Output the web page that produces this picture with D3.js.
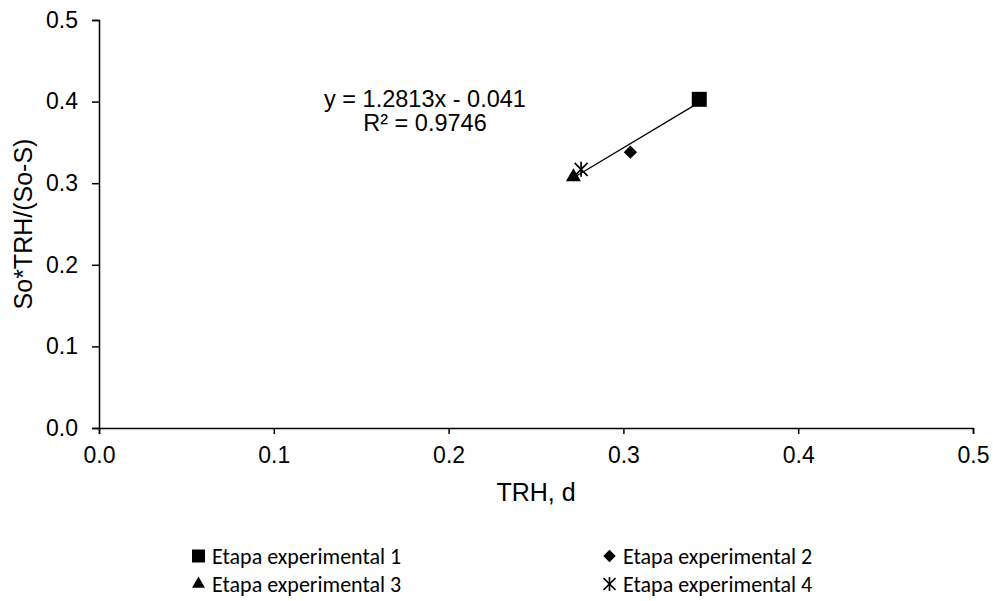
<!DOCTYPE html>
<html><head><meta charset="utf-8">
<script src="https://cdn.jsdelivr.net/npm/d3@7"></script>
<style>body{margin:0;background:#fff}svg{display:block}</style>
</head><body><svg id="c" width="993" height="601"></svg>
<script>
const seriesNames = ["Etapa experimental 1","Etapa experimental 2","Etapa experimental 3","Etapa experimental 4"];
const xValues = [0.3434, 0.304, 0.2714, 0.2758];
const yValues = [0.4028, 0.338, 0.3076, 0.317];
const symbols = ["square","diamond","triangle","asterisk"];
const xTicks = [0,0.1,0.2,0.3,0.4,0.5];
const yTicks = [0,0.1,0.2,0.3,0.4,0.5];
const slope = 1.2813, intercept = -0.041;
const eqLines = ["y = 1.2813x - 0.041","R² = 0.9746"];

const svg = d3.select("#c");
const x = d3.scaleLinear().domain([0,0.5]).range([99,973]);
const y = d3.scaleLinear().domain([0,0.5]).range([428,20]);
const font = "Liberation Sans, Arial, sans-serif";

const xa = svg.append("g").attr("transform","translate(0,428)")
  .call(d3.axisBottom(x).tickValues(xTicks).tickFormat(d3.format(".1f")).tickSizeOuter(0).tickSize(6).tickPadding(13));
const ya = svg.append("g").attr("transform","translate(99,0)")
  .call(d3.axisLeft(y).tickValues(yTicks).tickFormat(d3.format(".1f")).tickSizeOuter(0).tickSize(7).tickPadding(14));
[xa,ya].forEach(a=>{
  a.selectAll("path,line").attr("stroke","#000").attr("stroke-width",1.5);
  a.selectAll("text").attr("font-family",font).attr("font-size",23).attr("fill","#000");
});

svg.append("text").attr("x",536).attr("y",501).attr("text-anchor","middle")
  .attr("font-family",font).attr("font-size",25).text("TRH, d");
svg.append("text").attr("transform","translate(32,224) rotate(-90)").attr("text-anchor","middle")
  .attr("font-family",font).attr("font-size",25).text("So*TRH/(So-S)");

// trendline
const xmin = d3.min(xValues), xmax = d3.max(xValues);
svg.append("line").attr("x1",x(xmin)).attr("y1",y(slope*xmin+intercept))
  .attr("x2",x(xmax)).attr("y2",y(slope*xmax+intercept))
  .attr("stroke","#000").attr("stroke-width",1.3);

function drawSym(g, type, cx, cy, s){
  if(type==="asterisk"){
    const r=s/2;
    const p = g.append("g").attr("transform",`translate(${cx},${cy})`);
    [[-r,-r,r,r],[-r,r,r,-r],[0,-r*1.15,0,r*1.15]].forEach(l=>p.append("line").attr("x1",l[0]).attr("y1",l[1]).attr("x2",l[2]).attr("y2",l[3]).attr("stroke","#000").attr("stroke-width",1.7));
  } else if(type==="square"){
    g.append("path").attr("transform",`translate(${cx},${cy})`).attr("d",d3.symbol(d3.symbolSquare,s*s)()).attr("fill","#000");
  } else if(type==="diamond"){
    g.append("path").attr("transform",`translate(${cx},${cy})`).attr("d",d3.symbol(d3.symbolDiamond2,s*s/2)()).attr("fill","#000");
  } else {
    const area = Math.sqrt(3)/4*s*s;
    g.append("path").attr("transform",`translate(${cx},${cy})`).attr("d",d3.symbol(d3.symbolTriangle,area)()).attr("fill","#000");
  }
}
const pts = svg.append("g");
xValues.forEach((v,i)=>drawSym(pts, symbols[i], x(v), y(yValues[i]), [15,15,15,13][i]));

const eq = svg.append("text").attr("font-family",font).attr("font-size",23.5).attr("text-anchor","middle");
eqLines.forEach((t,i)=>eq.append("tspan").attr("x",425).attr("y",107+i*24).text(t));

// legend
const legPos = [[198.5,556],[609.5,556],[198.5,584],[609.5,584]];
const lfont = "Carlito, Lato, 'Open Sans', sans-serif";
seriesNames.forEach((n,i)=>{
  const [lx,ly]=legPos[i];
  drawSym(svg, symbols[i], lx, ly, [13,14,13,12][i]);
  svg.append("text").attr("x",lx+13.5).attr("y",ly+8).attr("font-family",lfont).attr("font-size",22).text(n);
});
</script></body></html>
